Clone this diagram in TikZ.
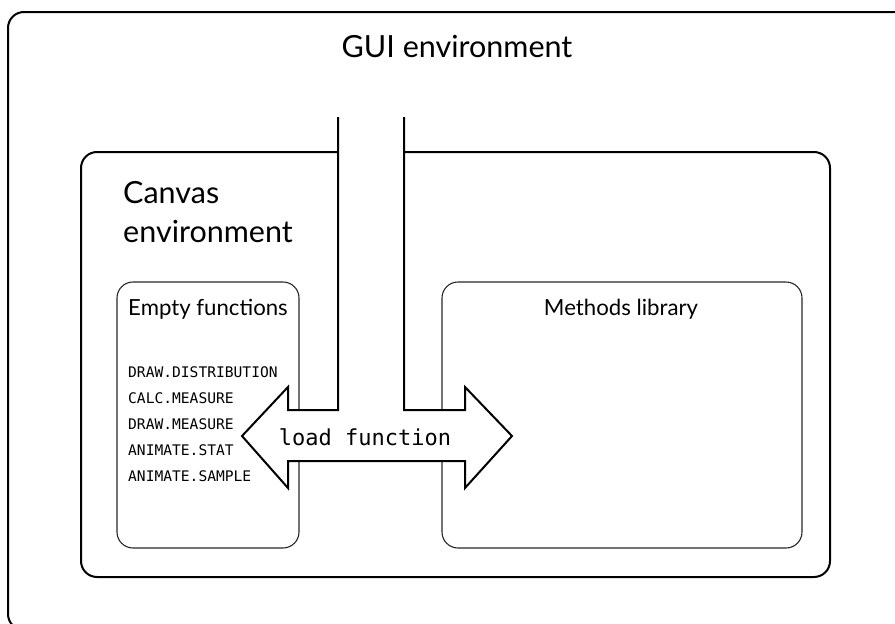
\documentclass[tikz,border=0pt]{standalone}
\usepackage{fontspec}
\setmainfont{Lato}
\setmonofont{DejaVu Sans Mono}
\begin{document}
\begin{tikzpicture}[x=1pt,y=-1pt,
  envbox/.style={draw=black,line width=2pt,rounded corners=16pt},
  fnbox/.style={draw=black!85,line width=1.1pt,rounded corners=16pt},
  bigtext/.style={font=\fontsize{30.5}{36}\selectfont,inner sep=0pt},
  midtext/.style={font=\fontsize{22.2}{26}\selectfont,inner sep=0pt},
  codetext/.style={font=\ttfamily\fontsize{14.6}{17}\selectfont,inner sep=0pt,anchor=base west},
  looptext/.style={font=\ttfamily\fontsize{22}{26}\selectfont,inner sep=0pt}]
\useasboundingbox (0,0) rectangle (895,624);
\clip (0,0) rectangle (895,624);

% GUI and canvas environments
\draw[envbox] (8,12) rectangle (909,630);
\draw[envbox] (81,152) rectangle (830,577);

% inner panels
\draw[fnbox] (117,282) rectangle (299,548);
\draw[fnbox] (442,282) rectangle (802,548);

% channel from the GUI down into the double arrow
\draw[line width=2pt,fill=white,line join=miter]
  (338,117) -- (338,410) -- (288,410) -- (288,387) -- (242,436)
  -- (288,488) -- (288,461) -- (465,461) -- (465,488) -- (512,436)
  -- (465,387) -- (465,410) -- (404,410) -- (404,117);

% labels
\node[bigtext,anchor=base] (gui) at (457,57) {GUI environment};
\node[bigtext,anchor=base west] (canvas1) at (123,203) {Canvas};
\node[bigtext,anchor=base west] (canvas2) at (123,242) {environment};
\node[midtext,anchor=base] (empty) at (208,315) {Empty functions};
\node[midtext,anchor=base] (methods) at (621,315) {Methods library};

\node[codetext] (f1) at (128,377) {DRAW.DISTRIBUTION};
\node[codetext] (f2) at (128,403) {CALC.MEASURE};
\node[codetext] (f3) at (128,429) {DRAW.MEASURE};
\node[codetext] (f4) at (128,455) {ANIMATE.STAT};
\node[codetext] (f5) at (128,481) {ANIMATE.SAMPLE};

\node[looptext,anchor=base] (load) at (365,445) {load function};
\end{tikzpicture}
\end{document}
